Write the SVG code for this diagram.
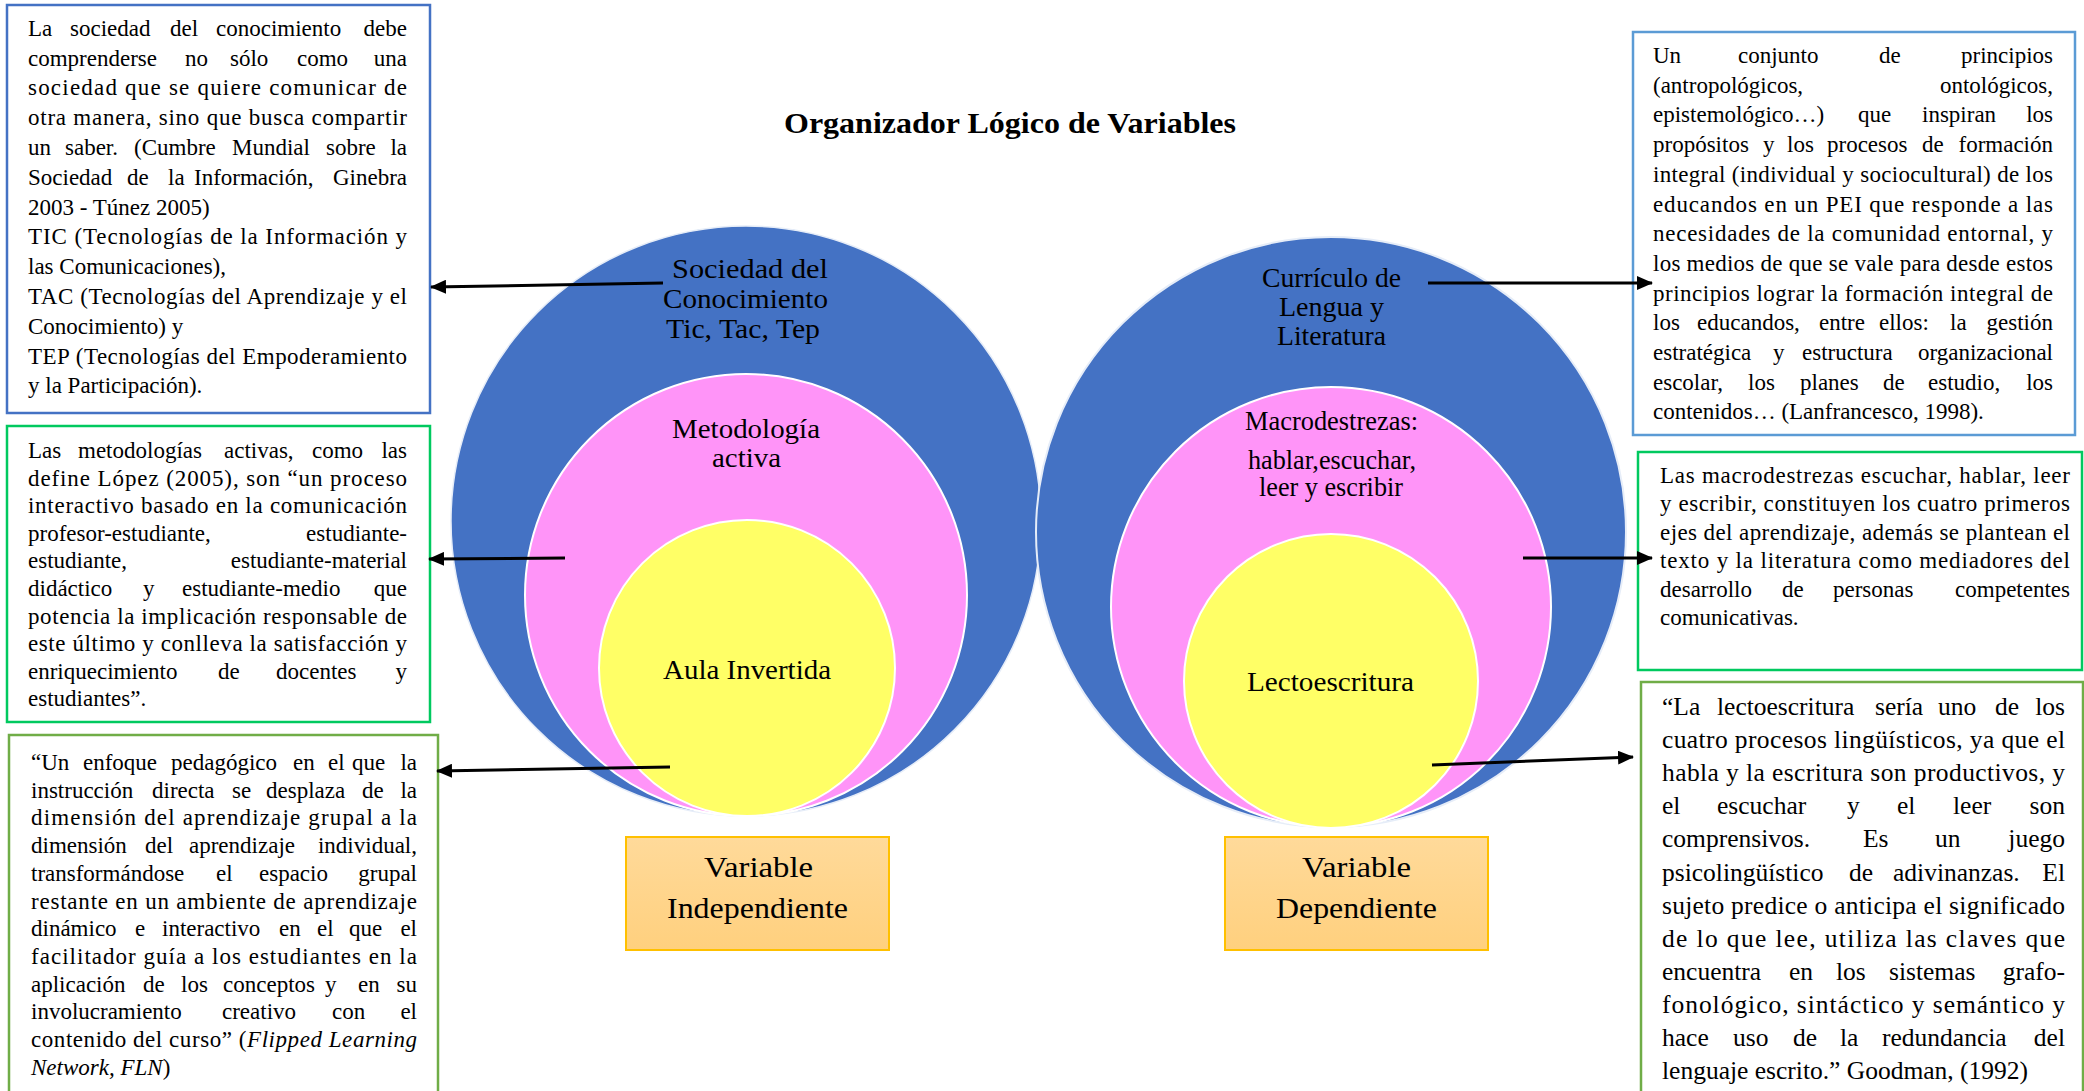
<svg xmlns="http://www.w3.org/2000/svg" width="2084" height="1091" viewBox="0 0 2084 1091">
<style>
text{font-family:"Liberation Serif","Times New Roman",serif;fill:#000}
.b{font-size:23px}
.b6{font-size:25.5px}
.e{text-anchor:end}
.lab{font-size:27px}
.var{font-size:29.5px}
.title{font-size:29px;font-weight:bold}
.box{fill:#fff;stroke-width:2.5}
.conn{stroke:#000;stroke-width:3;fill:none;marker-end:url(#ah)}
.ring{stroke:#fff;stroke-width:2}
.vbox{fill:url(#vg);stroke:#FFC000;stroke-width:2}
</style>
<defs>
<marker id="ah" markerWidth="16" markerHeight="14" refX="15" refY="7" orient="auto" markerUnits="userSpaceOnUse"><path d="M0,0 L16,7 L0,14 z" fill="#000"/></marker>
<linearGradient id="vg" x1="0" y1="0" x2="0" y2="1"><stop offset="0" stop-color="#FFDA9A"/><stop offset="1" stop-color="#FFD07E"/></linearGradient>
</defs>
<rect width="2084" height="1091" fill="#fff"/>

<g id="title"><text class="title" x="784" y="133" textLength="452" lengthAdjust="spacingAndGlyphs">Organizador Lógico de Variables</text></g>

<g id="circles-independiente">
<circle cx="746" cy="521" r="295" fill="#4472C4" stroke="#e6edf8" stroke-width="1.5"/>
<circle class="ring" cx="746" cy="595" r="221" fill="#FF94F8"/>
<circle class="ring" cx="747" cy="668" r="148" fill="#FFFF66"/>
<text class="lab" x="672" y="278" textLength="156" lengthAdjust="spacingAndGlyphs">Sociedad  del</text>
<text class="lab" x="663" y="308" textLength="165" lengthAdjust="spacingAndGlyphs">Conocimiento</text>
<text class="lab" x="666" y="338" textLength="154" lengthAdjust="spacingAndGlyphs">Tic, Tac, Tep</text>
<text class="lab" x="672" y="438" textLength="148" lengthAdjust="spacingAndGlyphs">Metodología</text>
<text class="lab" x="712" y="467" textLength="69" lengthAdjust="spacingAndGlyphs">activa</text>
<text class="lab" x="663" y="679" textLength="168" lengthAdjust="spacingAndGlyphs">Aula Invertida</text>
</g>

<g id="circles-dependiente">
<circle cx="1331" cy="532" r="295" fill="#4472C4" stroke="#e6edf8" stroke-width="2"/>
<circle class="ring" cx="1331" cy="607" r="220" fill="#FF94F8"/>
<circle class="ring" cx="1331" cy="681" r="147" fill="#FFFF66"/>
<text class="lab" x="1262" y="287" textLength="139" lengthAdjust="spacingAndGlyphs">Currículo de</text>
<text class="lab" x="1279" y="316" textLength="105" lengthAdjust="spacingAndGlyphs">Lengua y</text>
<text class="lab" x="1277" y="345" textLength="109" lengthAdjust="spacingAndGlyphs">Literatura</text>
<text class="lab" x="1245" y="430" textLength="173" lengthAdjust="spacingAndGlyphs">Macrodestrezas:</text>
<text class="lab" x="1248" y="469" textLength="168" lengthAdjust="spacingAndGlyphs">hablar,escuchar,</text>
<text class="lab" x="1259" y="496" textLength="144" lengthAdjust="spacingAndGlyphs">leer y escribir</text>
<text class="lab" x="1247" y="691" textLength="167" lengthAdjust="spacingAndGlyphs">Lectoescritura</text>
</g>

<g id="var-independiente">
<rect class="vbox" x="626" y="837" width="263" height="113"/>
<text class="var" x="704" y="877" textLength="109" lengthAdjust="spacingAndGlyphs">Variable</text>
<text class="var" x="667" y="918" textLength="181" lengthAdjust="spacingAndGlyphs">Independiente</text>
</g>
<g id="var-dependiente">
<rect class="vbox" x="1225" y="837" width="263" height="113"/>
<text class="var" x="1302" y="877" textLength="109" lengthAdjust="spacingAndGlyphs">Variable</text>
<text class="var" x="1276" y="918" textLength="161" lengthAdjust="spacingAndGlyphs">Dependiente</text>
</g>

<g id="box-sociedad">
<rect class="box" x="7" y="5" width="423" height="408" stroke="#4472C4"/>
<text class="b" y="36"><tspan x="28">La</tspan><tspan x="70">sociedad</tspan><tspan x="170">del</tspan><tspan x="216">conocimiento</tspan></text><text class="b e" x="407" y="36">debe</text>
<text class="b" y="65.5"><tspan x="28">comprenderse</tspan><tspan x="185">no</tspan><tspan x="230">sólo</tspan><tspan x="297">como</tspan></text><text class="b e" x="407" y="65.5">una</text>
<text class="b" x="28" y="95.3" textLength="379" lengthAdjust="spacing">sociedad que se quiere comunicar de</text>
<text class="b" x="28" y="125" textLength="379" lengthAdjust="spacing">otra manera, sino que busca compartir</text>
<text class="b" y="155"><tspan x="28">un</tspan><tspan x="65">saber.</tspan><tspan x="134">(Cumbre</tspan><tspan x="232">Mundial</tspan><tspan x="326">sobre</tspan></text><text class="b e" x="407" y="155">la</text>
<text class="b" y="184.7"><tspan x="28">Sociedad</tspan><tspan x="127">de</tspan><tspan x="168">la</tspan><tspan x="194">Información,</tspan></text><text class="b e" x="407" y="184.7">Ginebra</text>
<text class="b" x="28" y="214.5">2003 - Túnez 2005)</text>
<text class="b" x="28" y="244.3" textLength="379" lengthAdjust="spacing">TIC (Tecnologías de la Información y</text>
<text class="b" x="28" y="274">las Comunicaciones),</text>
<text class="b" x="28" y="304" textLength="379" lengthAdjust="spacing">TAC (Tecnologías del Aprendizaje y el</text>
<text class="b" x="28" y="333.7">Conocimiento) y</text>
<text class="b" x="28" y="363.5" textLength="379" lengthAdjust="spacing">TEP (Tecnologías del Empoderamiento</text>
<text class="b" x="28" y="393.3">y la Participación).</text>
</g>

<g id="box-metodologia">
<rect class="box" x="7" y="426" width="423" height="296" stroke="#00C95F"/>
<text class="b" y="458"><tspan x="28">Las</tspan><tspan x="78">metodologías</tspan><tspan x="224">activas,</tspan><tspan x="312">como</tspan></text><text class="b e" x="407" y="458">las</text>
<text class="b" x="28" y="485.6" textLength="379" lengthAdjust="spacing">define López (2005), son “un proceso</text>
<text class="b" x="28" y="513.2" textLength="379" lengthAdjust="spacing">interactivo basado en la comunicación</text>
<text class="b" x="28" y="540.8">profesor-estudiante,</text><text class="b e" x="407" y="540.8">estudiante-</text>
<text class="b" x="28" y="568.4">estudiante,</text><text class="b e" x="407" y="568.4">estudiante-material</text>
<text class="b" y="596"><tspan x="28">didáctico</tspan><tspan x="143">y</tspan><tspan x="182">estudiante-medio</tspan></text><text class="b e" x="407" y="596">que</text>
<text class="b" x="28" y="623.6" textLength="379" lengthAdjust="spacing">potencia la implicación responsable de</text>
<text class="b" x="28" y="651.2" textLength="379" lengthAdjust="spacing">este último y conlleva la satisfacción y</text>
<text class="b" y="678.8"><tspan x="28">enriquecimiento</tspan><tspan x="218">de</tspan><tspan x="276">docentes</tspan></text><text class="b e" x="407" y="678.8">y</text>
<text class="b" x="28" y="706.4">estudiantes”.</text>
</g>

<g id="box-aula">
<rect class="box" x="9" y="735" width="429" height="370" stroke="#70AD47"/>
<text class="b" y="770"><tspan x="31">“Un</tspan><tspan x="83">enfoque</tspan><tspan x="171">pedagógico</tspan><tspan x="293">en</tspan><tspan x="328">el</tspan><tspan x="352">que</tspan></text><text class="b e" x="417" y="770">la</text>
<text class="b" y="797.7"><tspan x="31">instrucción</tspan><tspan x="152">directa</tspan><tspan x="232">se</tspan><tspan x="266">desplaza</tspan><tspan x="362">de</tspan></text><text class="b e" x="417" y="797.7">la</text>
<text class="b" x="31" y="825.4" textLength="386" lengthAdjust="spacing">dimensión del aprendizaje grupal a la</text>
<text class="b" y="853.1"><tspan x="31">dimensión</tspan><tspan x="145">del</tspan><tspan x="189">aprendizaje</tspan></text><text class="b e" x="417" y="853.1">individual,</text>
<text class="b" y="880.8"><tspan x="31">transformándose</tspan><tspan x="216">el</tspan><tspan x="259">espacio</tspan></text><text class="b e" x="417" y="880.8">grupal</text>
<text class="b" x="31" y="908.5" textLength="386" lengthAdjust="spacing">restante en un ambiente de aprendizaje</text>
<text class="b" y="936.2"><tspan x="31">dinámico</tspan><tspan x="135">e</tspan><tspan x="162">interactivo</tspan><tspan x="279">en</tspan><tspan x="317">el</tspan><tspan x="349">que</tspan></text><text class="b e" x="417" y="936.2">el</text>
<text class="b" x="31" y="963.9" textLength="386" lengthAdjust="spacing">facilitador guía a los estudiantes en la</text>
<text class="b" y="991.6"><tspan x="31">aplicación</tspan><tspan x="143">de</tspan><tspan x="181">los</tspan><tspan x="223">conceptos</tspan><tspan x="325">y</tspan><tspan x="358">en</tspan></text><text class="b e" x="417" y="991.6">su</text>
<text class="b" y="1019.3"><tspan x="31">involucramiento</tspan><tspan x="222">creativo</tspan><tspan x="332">con</tspan></text><text class="b e" x="417" y="1019.3">el</text>
<text class="b" x="31" y="1047" textLength="386" lengthAdjust="spacing">contenido del curso” (<tspan font-style="italic">Flipped Learning</tspan></text>
<text class="b" x="31" y="1074.7"><tspan font-style="italic">Network, FLN</tspan>)</text>
</g>

<g id="box-curriculo">
<rect class="box" x="1633" y="32" width="442" height="403" stroke="#5B9BD5"/>
<text class="b" x="1653" y="63">Un</text><text class="b" x="1738" y="63">conjunto</text><text class="b" x="1879" y="63">de</text><text class="b e" x="2053" y="63">principios</text>
<text class="b" x="1653" y="92.7">(antropológicos,</text><text class="b e" x="2053" y="92.7">ontológicos,</text>
<text class="b" y="122.4"><tspan x="1653">epistemológico…)</tspan><tspan x="1858">que</tspan><tspan x="1922">inspiran</tspan></text><text class="b e" x="2053" y="122.4">los</text>
<text class="b" y="152.1"><tspan x="1653">propósitos</tspan><tspan x="1763">y</tspan><tspan x="1787">los</tspan><tspan x="1827">procesos</tspan><tspan x="1922">de</tspan></text><text class="b e" x="2053" y="152.1">formación</text>
<text class="b" x="1653" y="181.8" textLength="400" lengthAdjust="spacing">integral (individual y sociocultural) de los</text>
<text class="b" x="1653" y="211.5" textLength="400" lengthAdjust="spacing">educandos en un PEI que responde a las</text>
<text class="b" x="1653" y="241.2" textLength="400" lengthAdjust="spacing">necesidades de la comunidad entornal, y</text>
<text class="b" x="1653" y="270.9" textLength="400" lengthAdjust="spacing">los medios de que se vale para desde estos</text>
<text class="b" x="1653" y="300.6" textLength="400" lengthAdjust="spacing">principios lograr la formación integral de</text>
<text class="b" y="330.3"><tspan x="1653">los</tspan><tspan x="1697">educandos,</tspan><tspan x="1819">entre</tspan><tspan x="1879">ellos:</tspan><tspan x="1950">la</tspan></text><text class="b e" x="2053" y="330.3">gestión</text>
<text class="b" y="360"><tspan x="1653">estratégica</tspan><tspan x="1773">y</tspan><tspan x="1802">estructura</tspan></text><text class="b e" x="2053" y="360">organizacional</text>
<text class="b" y="389.7"><tspan x="1653">escolar,</tspan><tspan x="1748">los</tspan><tspan x="1800">planes</tspan><tspan x="1883">de</tspan><tspan x="1928">estudio,</tspan></text><text class="b e" x="2053" y="389.7">los</text>
<text class="b" x="1653" y="419.4">contenidos… (Lanfrancesco, 1998).</text>
</g>

<g id="box-macrodestrezas">
<rect class="box" x="1638" y="452" width="444" height="218" stroke="#00C95F"/>
<text class="b" x="1660" y="483" textLength="410" lengthAdjust="spacing">Las macrodestrezas escuchar, hablar, leer</text>
<text class="b" x="1660" y="511.4" textLength="410" lengthAdjust="spacing">y escribir, constituyen los cuatro primeros</text>
<text class="b" x="1660" y="539.8" textLength="410" lengthAdjust="spacing">ejes del aprendizaje, además se plantean el</text>
<text class="b" x="1660" y="568.2" textLength="410" lengthAdjust="spacing">texto y la literatura como mediadores del</text>
<text class="b" y="596.6"><tspan x="1660">desarrollo</tspan><tspan x="1782">de</tspan><tspan x="1833">personas</tspan></text><text class="b e" x="2070" y="596.6">competentes</text>
<text class="b" x="1660" y="625">comunicativas.</text>
</g>

<g id="box-lectoescritura">
<rect class="box" x="1641" y="682" width="442" height="430" stroke="#70AD47"/>
<text class="b6" y="715"><tspan x="1662">“La</tspan><tspan x="1717">lectoescritura</tspan><tspan x="1875">sería</tspan><tspan x="1938">uno</tspan><tspan x="1995">de</tspan></text><text class="b6 e" x="2065" y="715">los</text>
<text class="b6" x="1662" y="748.1" textLength="403" lengthAdjust="spacing">cuatro procesos lingüísticos, ya que el</text>
<text class="b6" x="1662" y="781.2" textLength="403" lengthAdjust="spacing">habla y la escritura son productivos, y</text>
<text class="b6" y="814.3"><tspan x="1662">el</tspan><tspan x="1717">escuchar</tspan><tspan x="1847">y</tspan><tspan x="1897">el</tspan><tspan x="1953">leer</tspan></text><text class="b6 e" x="2065" y="814.3">son</text>
<text class="b6" y="847.4"><tspan x="1662">comprensivos.</tspan><tspan x="1863">Es</tspan><tspan x="1935">un</tspan></text><text class="b6 e" x="2065" y="847.4">juego</text>
<text class="b6" y="880.5"><tspan x="1662">psicolingüístico</tspan><tspan x="1849">de</tspan><tspan x="1893">adivinanzas.</tspan></text><text class="b6 e" x="2065" y="880.5">El</text>
<text class="b6" x="1662" y="913.6" textLength="403" lengthAdjust="spacing">sujeto predice o anticipa el significado</text>
<text class="b6" x="1662" y="946.7" textLength="403" lengthAdjust="spacing">de lo que lee, utiliza las claves que</text>
<text class="b6" y="979.8"><tspan x="1662">encuentra</tspan><tspan x="1789">en</tspan><tspan x="1836">los</tspan><tspan x="1889">sistemas</tspan></text><text class="b6 e" x="2065" y="979.8">grafo-</text>
<text class="b6" x="1662" y="1012.9" textLength="403" lengthAdjust="spacing">fonológico, sintáctico y semántico y</text>
<text class="b6" y="1046"><tspan x="1662">hace</tspan><tspan x="1733">uso</tspan><tspan x="1793">de</tspan><tspan x="1840">la</tspan><tspan x="1882">redundancia</tspan></text><text class="b6 e" x="2065" y="1046">del</text>
<text class="b6" x="1662" y="1079.1">lenguaje escrito.” Goodman, (1992)</text>
</g>

<g id="connectors">
<line class="conn" x1="663" y1="283" x2="431" y2="287"/>
<line class="conn" x1="565" y1="558" x2="429" y2="559"/>
<line class="conn" x1="670" y1="767" x2="437" y2="771"/>
<line class="conn" x1="1428" y1="283" x2="1652" y2="283"/>
<line class="conn" x1="1523" y1="558" x2="1652" y2="558"/>
<line class="conn" x1="1432" y1="765" x2="1633" y2="757"/>
</g>
</svg>
